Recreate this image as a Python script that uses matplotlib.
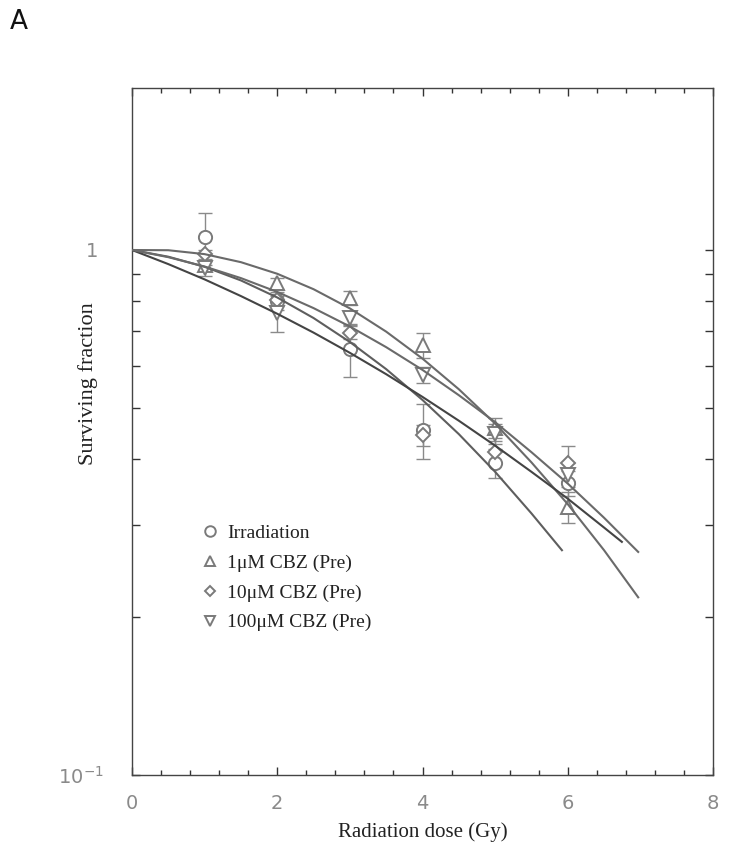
"""Clonogenic survival curves, panel A."""
import matplotlib
matplotlib.use("Agg")
import matplotlib.pyplot as plt
from matplotlib.ticker import FixedLocator, NullFormatter, FixedFormatter, MultipleLocator

# measured points (dose in Gy, surviving fraction, error)
dose = [1, 2, 3, 4, 5, 6]

sf_irr = [1.057, 0.800, 0.648, 0.454, 0.393, 0.360]
err_irr = [0.120, 0.030, 0.075, 0.055, 0.025, 0.020]

sf_1um = [0.936, 0.864, 0.811, 0.659, 0.458, 0.324]
err_1um = [0.020, 0.020, 0.025, 0.035, 0.020, 0.022]

sf_10um = [0.981, 0.803, 0.696, 0.444, 0.413, 0.393]
err_10um = [0.020, 0.020, 0.020, 0.020, 0.020, 0.030]

sf_100um = [0.923, 0.758, 0.741, 0.578, 0.447, 0.373]
err_100um = [0.030, 0.060, 0.020, 0.020, 0.020, 0.020]

# fitted curves, read every 0.5 Gy
fit_dose_irr = [0, 0.5, 1, 1.5, 2, 2.5, 3, 3.5, 4, 4.5, 5, 5.5, 5.92]
fit_irr = [1, 0.971, 0.929, 0.875, 0.812, 0.742, 0.668, 0.593, 0.518, 0.446, 0.378, 0.315, 0.268]

fit_dose_1um = [0, 0.5, 1, 1.5, 2, 2.5, 3, 3.5, 4, 4.5, 5, 5.5, 6, 6.5, 6.97]
fit_1um = [1, 0.999, 0.982, 0.948, 0.901, 0.842, 0.774, 0.699, 0.621, 0.543, 0.467, 0.394, 0.328, 0.268, 0.218]

fit_dose_10um = [0, 0.5, 1, 1.5, 2, 2.5, 3, 3.5, 4, 4.5, 5, 5.5, 6, 6.5, 6.745]
fit_10um = [1, 0.940, 0.879, 0.817, 0.756, 0.696, 0.637, 0.580, 0.525, 0.473, 0.424, 0.378, 0.336, 0.296, 0.278]

fit_dose_100um = [0, 0.5, 1, 1.5, 2, 2.5, 3, 3.5, 4, 4.5, 5, 5.5, 6, 6.5, 6.97]
fit_100um = [1, 0.969, 0.930, 0.884, 0.832, 0.775, 0.715, 0.653, 0.591, 0.529, 0.470, 0.412, 0.359, 0.309, 0.266]

labels = ["Irradiation", "1\u03bcM CBZ (Pre)", "10\u03bcM CBZ (Pre)", "100\u03bcM CBZ (Pre)"]

serif = ["Liberation Serif", "DejaVu Serif"]
MARK = "#7a7a7a"

fig = plt.figure(figsize=(7.29, 8.61), dpi=100)
ax = fig.add_axes([132 / 729, 1 - 775 / 861, 581 / 729, 687 / 861])

series = [
    (sf_irr, err_irr, "o", 9.5, fit_dose_irr, fit_irr, "#5e5e5e"),
    (sf_1um, err_1um, "^", 9.5, fit_dose_1um, fit_1um, "#6a6a6a"),
    (sf_10um, err_10um, "D", 7, fit_dose_10um, fit_10um, "#444444"),
    (sf_100um, err_100um, "v", 9.5, fit_dose_100um, fit_100um, "#6a6a6a"),
]

handles = []
for (sf, err, mk, ms, fx, fy, lc), lab in zip(series, labels):
    ax.errorbar(dose, sf, yerr=err, fmt="none", ecolor="#8a8a8a",
                elinewidth=1.0, capsize=5, capthick=1.0, zorder=2)
    h, = ax.plot(dose, sf, linestyle="none", marker=mk, markersize=ms,
                 markerfacecolor="white", markeredgecolor=MARK,
                 markeredgewidth=1.4, zorder=3, label=lab)
    ax.plot(fx, fy, color=lc, linewidth=1.5, zorder=4)
    handles.append(h)

ax.set_yscale("log")
ax.set_xlim(0, 8)
ax.set_ylim(0.1, 2.035)

ax.xaxis.set_major_locator(MultipleLocator(2))
ax.xaxis.set_minor_locator(MultipleLocator(0.4))
ax.yaxis.set_major_locator(FixedLocator([0.1, 1]))
ax.yaxis.set_major_formatter(FixedFormatter(["$10^{-1}$", "1 "]))
ax.yaxis.set_minor_locator(FixedLocator([0.2, 0.3, 0.4, 0.5, 0.6, 0.7, 0.8, 0.9]))
ax.yaxis.set_minor_formatter(NullFormatter())

ax.tick_params(which="both", direction="in", top=True, right=True,
               colors="#333333", labelcolor="#8a8a8a", labelsize=14, width=1.0)
ax.tick_params(axis="x", which="major", length=6, pad=14)
ax.tick_params(axis="x", which="minor", length=3.5)
ax.tick_params(axis="y", which="both", length=6, pad=20)
for sp in ax.spines.values():
    sp.set_color("#444444")
    sp.set_linewidth(1.0)

ax.set_xlabel("Radiation dose (Gy)", family=serif, fontsize=15, color="#222222")
ax.set_ylabel("Surviving fraction", family=serif, fontsize=16, color="#222222")
ax.xaxis.set_label_coords(0.5, -0.069)
ax.yaxis.set_label_coords(-0.058, 0.57)

leg = ax.legend(handles=handles, loc="upper left", bbox_to_anchor=(0.088, 0.39),
                frameon=False, prop={"family": serif, "size": 14},
                handlelength=1.0, handletextpad=0.35, labelspacing=0.62,
                markerscale=0.8)
for t in leg.get_texts():
    t.set_color("#222222")

fig.text(10 / 729, 1 - 22 / 861, "A", fontsize=19, va="center", ha="left",
         family="DejaVu Sans", color="#111111")

fig.savefig("out.png", dpi=100)
